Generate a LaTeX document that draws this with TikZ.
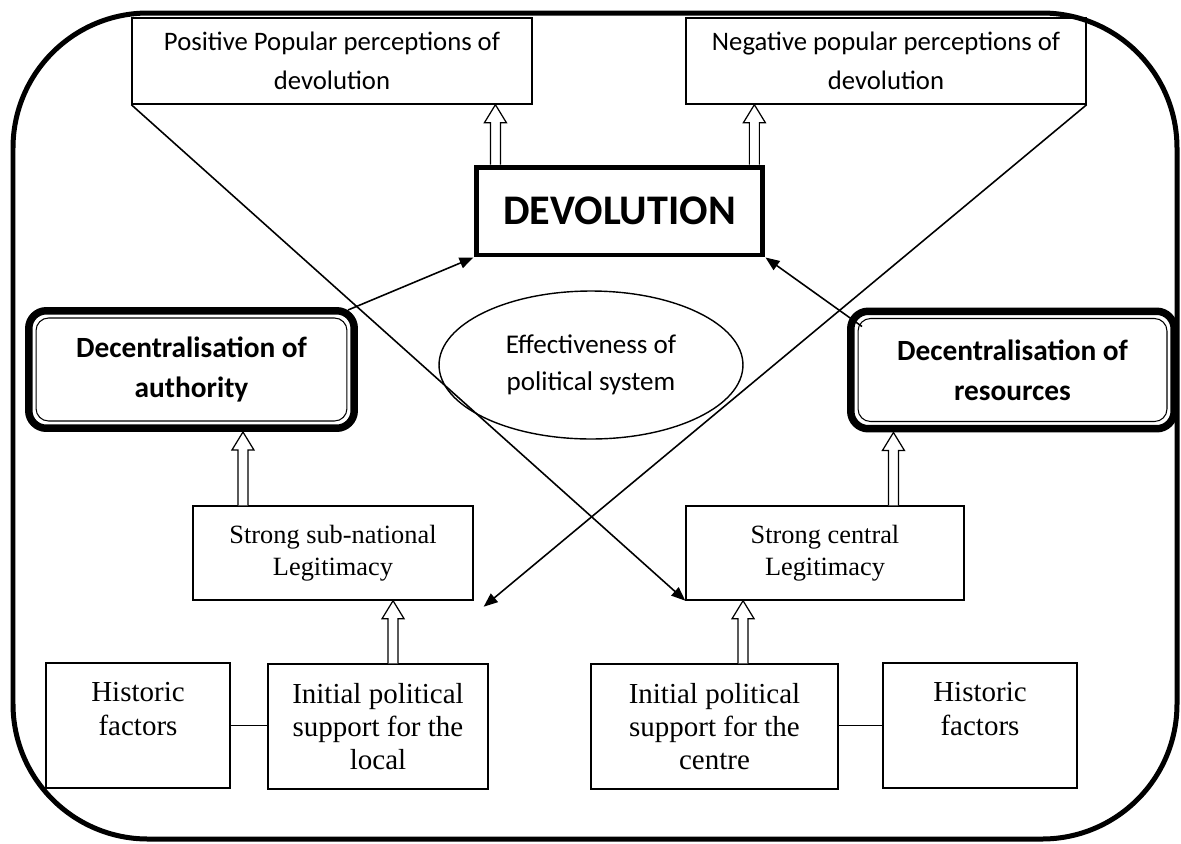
\documentclass[tikz,border=0pt]{standalone}
\usepackage{fontspec}
\setmainfont{Liberation Serif}
\newfontfamily\calibri{Carlito}
\usetikzlibrary{arrows.meta,calc,shapes.geometric}

\newcommand{\hollowup}[2]{%
  \draw[fill=white,line width=0.7pt] ($(#1)+(-5,0)$) -- ($(#2)+(-5,18)$) -- ($(#2)+(-11,18)$) -- (#2)
    -- ($(#2)+(11,18)$) -- ($(#2)+(5,18)$) -- ($(#1)+(5,0)$);}

\begin{document}
\begin{tikzpicture}[x=0.02cm,y=-0.02cm,
  box/.style={draw,line width=0.8pt,inner sep=0pt,align=center},
  topbox/.style={box,minimum width=8cm,minimum height=1.72cm,font=\calibri\fontsize{15.2}{22}\selectfont},
  legbox/.style={box,minimum height=1.88cm,font=\fontsize{15}{18.5}\selectfont},
  basebox/.style={box,minimum height=2.5cm,font=\fontsize{16.5}{19}\selectfont},
  decbox/.style={draw,line width=0.15cm,rounded corners=0.35cm,inner sep=0pt,align=center,
    minimum height=2.35cm,font=\calibri\bfseries\fontsize{16.7}{23}\selectfont},
  link/.style={-{Triangle[length=0.28cm,width=0.22cm]},line width=0.9pt}]

\useasboundingbox (0,0) rectangle (1181,843);
\draw[line width=0.1cm,rounded corners=2.7cm] (13,13) rectangle (1177,839);

\node[topbox] (posbox) at (332,61) {Positive Popular perceptions of\\devolution};
\node[topbox] (negbox) at (886,61) {Negative popular perceptions of\\devolution};
\node[draw,line width=0.1cm,minimum width=5.74cm,minimum height=1.76cm,
  font=\calibri\bfseries\fontsize{24}{28}\selectfont] (dev) at (619.5,211) {DEVOLUTION};
\node[ellipse,draw,line width=0.8pt,minimum width=6.08cm,minimum height=2.96cm,inner sep=0pt,
  align=center,font=\calibri\fontsize{15.4}{21}\selectfont] (eff) at (591,365) {Effectiveness of\\political system};
\node[decbox,minimum width=6.51cm] (decauth) at (191.5,369.5) {Decentralisation of\\authority};
\node[decbox,minimum width=6.47cm] (decres) at (1012.5,370) {Decentralisation of\\resources};
\node[legbox,minimum width=5.6cm] (subnat) at (333,553) {Strong sub-national\\Legitimacy};
\node[legbox,minimum width=5.56cm] (central) at (825,553) {Strong central\\Legitimacy};
\node[basebox,minimum width=3.68cm] (histL) at (138,725.5) {Historic\\factors\\ \mbox{}};
\node[basebox,minimum width=4.4cm] (local) at (378,726.5) {Initial political\\support for the\\local};
\node[basebox,minimum width=4.94cm] (centre) at (714.5,726.5) {Initial political\\support for the\\centre};
\node[basebox,minimum width=3.88cm] (histR) at (980,725.5) {Historic\\factors\\ \mbox{}};

\foreach \n in {decauth,decres}
  \draw[line width=0.6pt,rounded corners=0.25cm] ($(\n.north west)+(11,11)$) rectangle ($(\n.south east)+(-11,-11)$);

\coordinate (d1) at ($(dev.north west)!0.075!(dev.north east)$);
\coordinate (d2) at ($(dev.north west)!0.962!(dev.north east)$);
\coordinate (s1) at ($(subnat.north west)!0.18!(subnat.north east)$);
\coordinate (c1) at ($(central.north west)!0.745!(central.north east)$);
\coordinate (l1) at ($(local.north west)!0.568!(local.north east)$);
\coordinate (e1) at ($(centre.north west)!0.615!(centre.north east)$);
\coordinate (n2) at ($(subnat.south east)+(10,6)$);
\coordinate (a1) at ($(decauth.north east)+(-10,3)$);
\coordinate (r1) at ($(decres.north west)+(15,19)$);

\path[link]
    (posbox.south west) edge (central.south west)
    (negbox.south east) edge (n2)
    (a1) edge (dev.south west)
    (r1) edge (dev.south east);

\draw[box] (histL.east) -- (histL.east -| local.west);
\draw[box] (histR.west) -- (histR.west -| centre.east);

\hollowup{d1}{d1 |- posbox.south}
\hollowup{d2}{d2 |- negbox.south}
\hollowup{s1}{s1 |- decauth.south}
\hollowup{c1}{c1 |- decres.south}
\hollowup{l1}{l1 |- subnat.south}
\hollowup{e1}{e1 |- central.south}
\end{tikzpicture}
\end{document}
